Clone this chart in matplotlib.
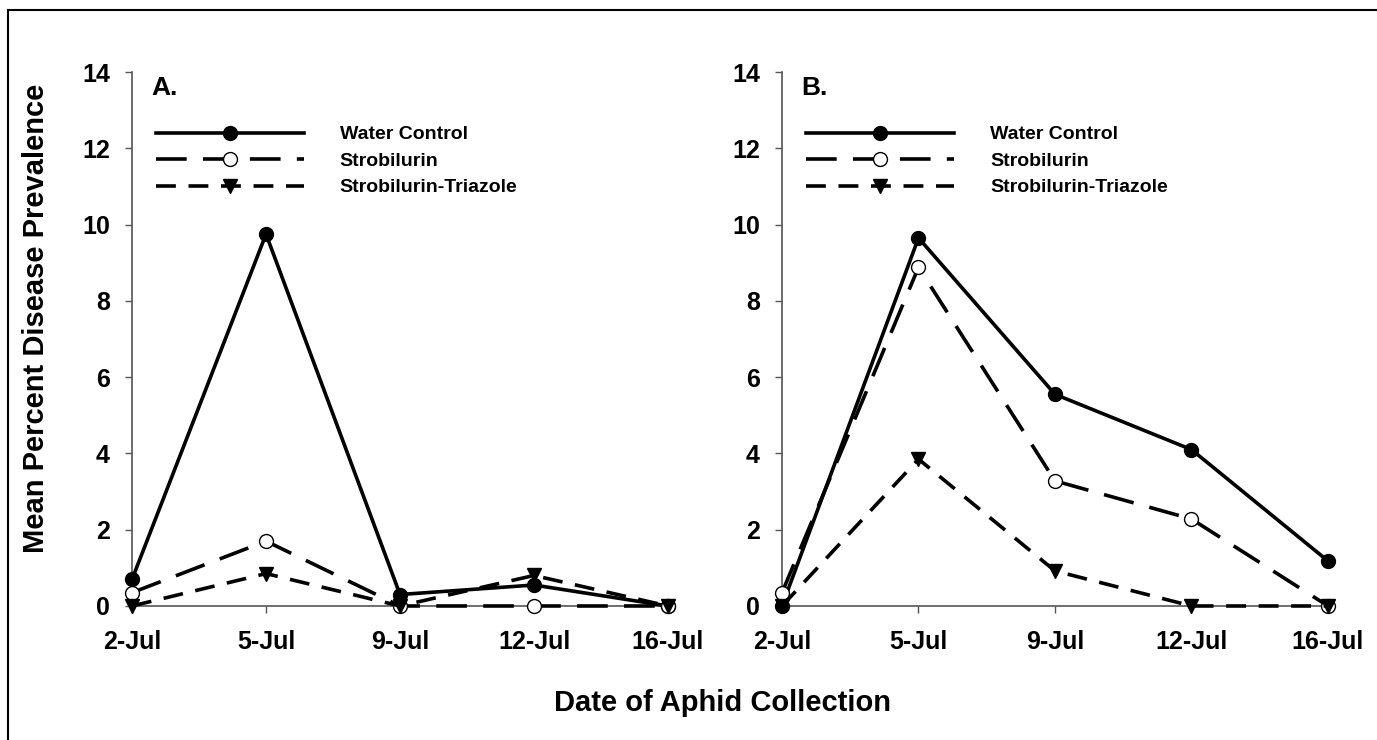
import matplotlib
matplotlib.use("Agg")
import matplotlib.pyplot as plt
from matplotlib.lines import Line2D

dates = ["2-Jul", "5-Jul", "9-Jul", "12-Jul", "16-Jul"]
series_names = ["Water Control", "Strobilurin", "Strobilurin-Triazole"]

# Panel A
a_water = [0.7, 9.75, 0.3, 0.55, 0.0]
a_strob = [0.35, 1.7, 0.0, 0.0, 0.0]
a_triaz = [0.0, 0.85, 0.0, 0.8, 0.0]

# Panel B
b_water = [0.0, 9.65, 5.55, 4.1, 1.18]
b_strob = [0.35, 8.88, 3.28, 2.28, 0.0]
b_triaz = [0.0, 3.85, 0.92, 0.0, 0.0]

yticks = [0, 2, 4, 6, 8, 10, 12, 14]

ARIAL = ["Liberation Sans", "DejaVu Sans"]

fig = plt.figure(figsize=(13.77, 7.40), dpi=100)
fig.patch.set_facecolor("white")

styles = [
    dict(color="black", lw=2.6, ls="-", marker="o", ms=10, mfc="black", mec="black"),
    dict(color="black", lw=2.6, ls=(0, (8.5, 4.5)), marker="o", ms=10, mfc="white", mec="black", mew=1.0),
    dict(color="black", lw=2.6, ls=(0, (5.5, 3.5)), marker="v", ms=10, mfc="black", mec="black"),
]

def panel(rect, data, label):
    ax = fig.add_axes(rect)
    x = list(range(len(dates)))
    for vals, st, name in zip(data, styles, series_names):
        ax.plot(x, vals, clip_on=False, label=name, zorder=3, **st)
    ax.set_xlim(0, 4)
    ax.set_ylim(0, 14)
    ax.set_xticks(x)
    ax.set_xticklabels(dates)
    ax.set_yticks(yticks)
    for s in ["top", "right"]:
        ax.spines[s].set_visible(False)
    for s in ["left", "bottom"]:
        ax.spines[s].set_color("#555555")
        ax.spines[s].set_linewidth(1.2)
    ax.tick_params(axis="both", direction="out", length=5, width=1, color="#555555")
    ax.tick_params(axis="y", pad=11)
    ax.tick_params(axis="x", pad=12)
    for t in ax.get_xticklabels() + ax.get_yticklabels():
        t.set_fontfamily(ARIAL)
        t.set_fontweight("bold")
        t.set_fontsize(18)
    ax.text(0.036, 0.97, label, transform=ax.transAxes, fontsize=19, fontweight="bold",
            family=ARIAL, va="center", ha="left")
    ax.legend(loc="upper left", bbox_to_anchor=(0.03, 0.914), frameon=False,
              handlelength=7.6, handletextpad=1.85, labelspacing=0.46,
              prop=dict(family=ARIAL, weight="bold", size=14), borderaxespad=0)
    return ax

axA = panel([0.0959, 0.1811, 0.3892, 0.7216], [a_water, a_strob, a_triaz], "A.")
axB = panel([0.5679, 0.1811, 0.3965, 0.7216], [b_water, b_strob, b_triaz], "B.")

fig.text(722 / 1377, 1 - 703 / 740, "Date of Aphid Collection", ha="center", va="center",
         fontsize=21, fontweight="bold", family=ARIAL)
fig.text(36 / 1377, 1 - 318 / 740, "Mean Percent Disease Prevalence", ha="center", va="center",
         rotation=90, fontsize=21, fontweight="bold", family=ARIAL)

# page frame (left and top edges)
fig.add_artist(Line2D([8 / 1377, 8 / 1377], [0, 1 - 10 / 740], color="black", lw=1.5,
                      transform=fig.transFigure))
fig.add_artist(Line2D([8 / 1377, 1], [1 - 10 / 740, 1 - 10 / 740], color="black", lw=1.5,
                      transform=fig.transFigure))

fig.savefig("out.png", dpi=100, facecolor="white")
